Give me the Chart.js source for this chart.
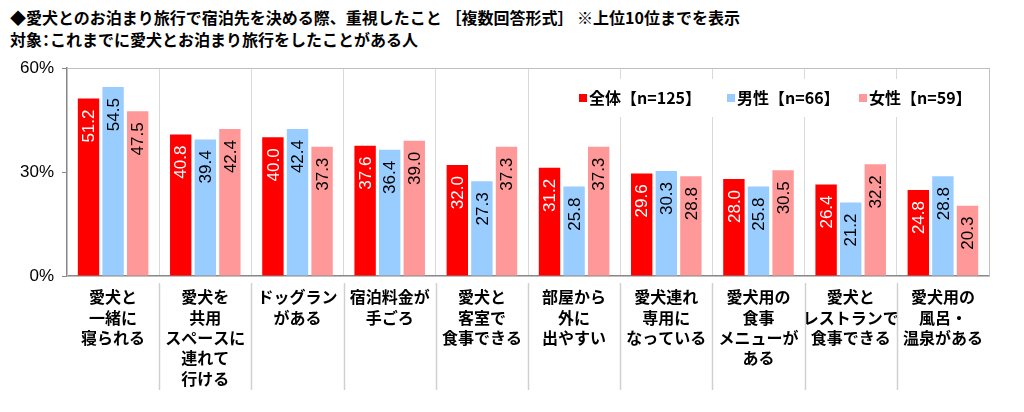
<!DOCTYPE html>
<html lang="ja">
<head>
<meta charset="utf-8">
<script src="https://cdn.jsdelivr.net/npm/chart.js@4.4.1/dist/chart.umd.min.js"></script>
<style>
  html, body { margin: 0; padding: 0; background: #fff; }
  #wrap { position: relative; width: 1024px; height: 412px; }
  .title {
    position: absolute; left: 10px; white-space: nowrap;
    font-family: "Noto Sans CJK JP", sans-serif; font-weight: bold;
    font-size: 16px; color: #000; line-height: 20px;
  }
  .palt { font-feature-settings: "palt"; }
  #t1 { top: 7px; }
  #t2 { top: 29px; }
  canvas { position: absolute; left: 0; top: 0; }
</style>
</head>
<body>
<div id="wrap">
  <div class="title" id="t1">◆愛犬とのお泊まり旅行で宿泊先を決める際、重視したこと ［複数回答形式］ ※上位10位までを表示</div>
  <div class="title" id="t2">対象<span class="palt">：</span>これまでに愛犬とお泊まり旅行をしたことがある人</div>
  <canvas id="chart" width="1024" height="412"></canvas>
</div>
<script>
// categories (multi-line labels)
const categories = [
    ['愛犬と', '一緒に', '寝られる'],
    ['愛犬を', '共用', 'スペースに', '連れて', '行ける'],
    ['ドッグラン', 'がある'],
    ['宿泊料金が', '手ごろ'],
    ['愛犬と', '客室で', '食事できる'],
    ['部屋から', '外に', '出やすい'],
    ['愛犬連れ', '専用に', 'なっている'],
    ['愛犬用の', '食事', 'メニューが', 'ある'],
    ['愛犬と', 'レストランで', '食事できる'],
    ['愛犬用の', '風呂・', '温泉がある']
];

const seriesNames = ['全体【n=125】', '男性【n=66】', '女性【n=59】'];
const allValues    = [51.2, 40.8, 40.0, 37.6, 32.0, 31.2, 29.6, 28.0, 26.4, 24.8];
const maleValues   = [54.5, 39.4, 42.4, 36.4, 27.3, 25.8, 30.3, 25.8, 21.2, 28.8];
const femaleValues = [47.5, 42.4, 37.3, 39.0, 37.3, 37.3, 28.8, 30.5, 32.2, 20.3];
const yTicks = [0, 30, 60];

const colors = ['#FF0000', '#99CCFF', '#FF9999'];
const labelColors = ['#FFFFFF', '#000000', '#000000'];

// light frame around plot area
const framePlugin = {
    id: 'frame',
    beforeDatasetsDraw(chart) {
        const { ctx, chartArea: a } = chart;
        ctx.save();
        ctx.strokeStyle = '#C0C0C0';
        ctx.lineWidth = 1;
        ctx.strokeRect(a.left + 0.5, a.top + 0.5, a.right - a.left, a.bottom - a.top);
        ctx.restore();
    }
};

// separators below the x axis between category labels
const separatorPlugin = {
    id: 'separators',
    afterDraw(chart) {
        const { ctx, chartArea: a } = chart;
        const x = chart.scales.x;
        ctx.save();
        ctx.strokeStyle = '#D0D0D0';
        ctx.lineWidth = 1.5;
        for (let i = 1; i < categories.length; i++) {
            const px = Math.round((x.getPixelForValue(i - 1) + x.getPixelForValue(i)) / 2) + 0.5;
            ctx.beginPath();
            ctx.moveTo(px, a.bottom + 7);
            ctx.lineTo(px, a.bottom + 114);
            ctx.stroke();
        }
        ctx.restore();
    }
};

// rotated value labels inside bars
const valueLabelPlugin = {
    id: 'valueLabels',
    afterDatasetsDraw(chart) {
        const { ctx } = chart;
        ctx.save();
        ctx.font = '17px "Liberation Sans", Arial, sans-serif';
        ctx.textBaseline = 'middle';
        ctx.textAlign = 'right';
        chart.data.datasets.forEach((ds, di) => {
            chart.getDatasetMeta(di).data.forEach((bar, i) => {
                ctx.save();
                ctx.translate(bar.x, bar.y + 11);
                ctx.rotate(-Math.PI / 2);
                ctx.fillStyle = labelColors[di];
                ctx.fillText(ds.data[i].toFixed(1), 0, 1);
                ctx.restore();
            });
        });
        ctx.restore();
    }
};

// legend inside the plot area, top right
const legendPlugin = {
    id: 'insideLegend',
    afterDatasetsDraw(chart) {
        const { ctx } = chart;
        const xs = [579, 727, 859];
        const y = 98;
        ctx.save();
        ctx.fillStyle = '#FFFFFF';
        ctx.fillRect(566, 79, 410, 38);
        ctx.font = 'bold 16px "Noto Sans CJK JP", sans-serif';
        ctx.textBaseline = 'middle';
        ctx.textAlign = 'left';
        chart.data.datasets.forEach((ds, di) => {
            ctx.fillStyle = ds.backgroundColor;
            ctx.fillRect(xs[di], y - 4, 8, 8);
            ctx.fillStyle = '#000';
            ctx.fillText(ds.label, xs[di] + 10, y);
        });
        ctx.restore();
    }
};

new Chart(document.getElementById('chart').getContext('2d'), {
    type: 'bar',
    data: {
        labels: categories,
        datasets: [
            { label: seriesNames[0], data: allValues, backgroundColor: colors[0] },
            { label: seriesNames[1], data: maleValues, backgroundColor: colors[1] },
            { label: seriesNames[2], data: femaleValues, backgroundColor: colors[2] }
        ].map(d => Object.assign(d, {
            categoryPercentage: 0.8,
            barPercentage: 0.87,
            borderWidth: 0
        }))
    },
    options: {
        responsive: false,
        animation: false,
        layout: { padding: { top: 68, right: 35, left: 0, bottom: 0 } },
        plugins: {
            legend: { display: false },
            title: { display: false },
            tooltip: { enabled: false }
        },
        scales: {
            x: {
                offset: true,
                grid: { offset: true, color: '#D9D9D9', drawTicks: false },
                border: { color: '#888888', width: 1.5 },
                ticks: {
                    color: '#000',
                    padding: 11,
                    maxRotation: 0,
                    autoSkip: false,
                    font: { family: '"Noto Sans CJK JP", sans-serif', size: 16, weight: 'bold', lineHeight: 1.27 }
                },
                afterFit(scale) { scale.height = 136; }
            },
            y: {
                min: 0,
                max: 60,
                afterBuildTicks(scale) { scale.ticks = yTicks.map(v => ({ value: v })); },
                grid: { drawOnChartArea: false, drawTicks: true, tickLength: 5, color: '#888888' },
                border: { color: '#888888', width: 1.5 },
                ticks: {
                    color: '#000',
                    padding: 8,
                    font: { family: '"Liberation Sans", Arial, sans-serif', size: 17 },
                    callback: v => v + '%'
                },
                afterFit(scale) { scale.width = 67; }
            }
        }
    },
    plugins: [framePlugin, separatorPlugin, valueLabelPlugin, legendPlugin]
});
</script>
</body>
</html>
